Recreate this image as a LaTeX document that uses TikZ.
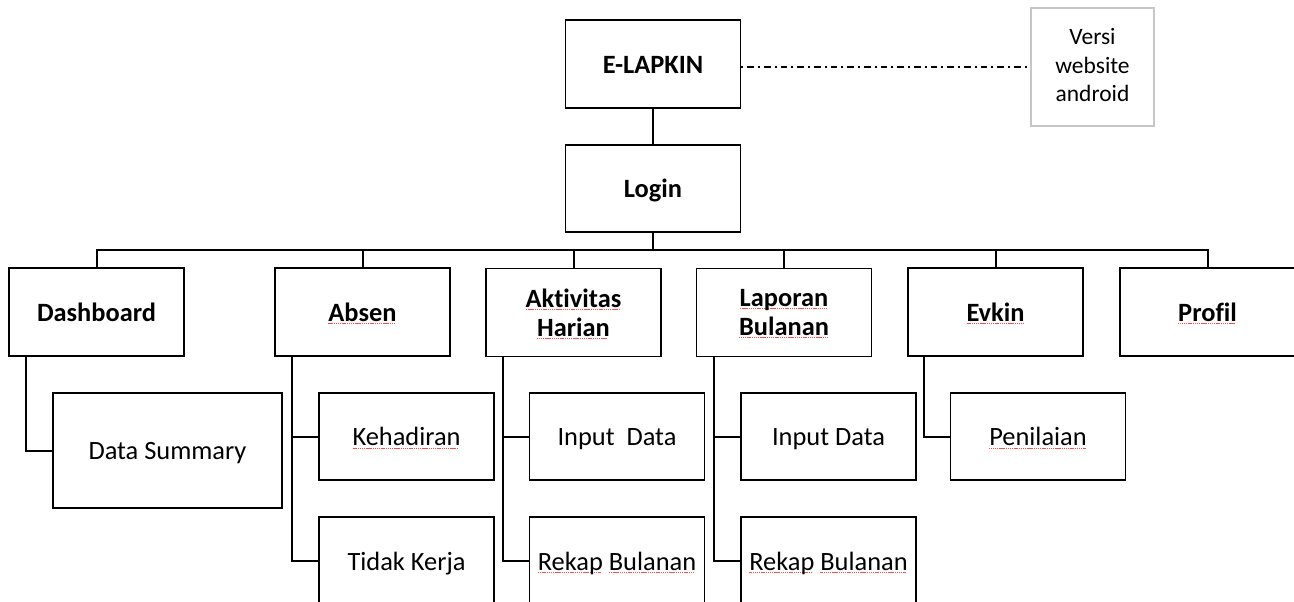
\documentclass[tikz,border=0pt]{standalone}
\usepackage{fontspec}
\setmainfont{Carlito}[Ligatures=NoCommon]
\usetikzlibrary{calc}
\newsavebox\spwbox
\newcommand\spw[1]{\leavevmode\sbox\spwbox{#1}\smash{\rlap{\textcolor{red!70}{\leaders\hbox{\rule[-2pt]{0.9pt}{0.5pt}\kern0.5pt}\hskip\wd\spwbox}}}\usebox\spwbox}
\tikzset{
  box/.style={draw, line width=1.4pt, minimum width=131.25pt, minimum height=65.25pt,
    inner sep=0pt, align=center, font=\fontsize{19.8}{21.75}\selectfont},
  head/.style={box, minimum height=66pt, font=\fontsize{19.8}{21.75}\selectfont\bfseries},
  oneline/.style={text height=13.6pt, text depth=0pt},
  link/.style={line width=1.5pt},
  dashdotline/.style={line width=1.1pt, dash pattern=on 1.5pt off 3pt on 5pt off 3pt},
}
\begin{document}
\begin{tikzpicture}[x=0.75pt, y=-0.75pt]
\useasboundingbox (0,0) rectangle (1294,601);
\clip (0,0) rectangle (1294,601);
% top
\node[head, oneline] (elapkin) at (653,64) {E-LAPKIN};
\node[head, oneline, minimum height=65.25pt] (login) at (653,188.5) {Login};
\node[box, draw=gray!45, line width=1.5pt, minimum width=92.25pt, minimum height=88.5pt,
      font=\fontsize{17.6}{21.6}\selectfont] (versi) at (1092.5,67) {Versi\\website\\android\vphantom{p}};
\draw[dashdotline] (elapkin.east |- versi.west) -- (versi.west);
\draw[link] (elapkin) -- (login);
% first level
\node[head, oneline] (dash) at (96.5,312) {Dashboard};
\node[head, oneline] (absen) at (362.5,312) {\spw{Absen}};
\node[head] (akt) at (573.5,312.5) {\spw{Aktivitas}\\\spw{Harian}};
\node[head] (lap) at (784,312.5) {\spw{Laporan}\\\spw{Bulanan}};
\node[head, oneline] (evkin) at (995.5,312) {\spw{Evkin}};
\node[head, oneline] (profil) at (1207.5,312) {\spw{Profil}};
\coordinate (bus) at (653,250);
\draw[link] (login) -- (bus);
\draw[link] (dash.north) |- (bus) -| (profil.north);
\foreach \n in {absen,akt,lap,evkin} \draw[link] (\n.north) -- (\n.north |- bus);
% second level
\node[box, oneline, minimum width=171.75pt, minimum height=86.25pt] (ds) at (167.5,450.5) {Data Summary};
\node[box, oneline] (keh) at (406.5,436.5) {\spw{Kehadiran}};
\node[box, oneline] (in1) at (617,436.5) {Input\ \ Data};
\node[box, oneline] (in2) at (828.5,436.5) {Input Data};
\node[box, oneline] (pen) at (1038,436.5) {\spw{Penilaian}};
% third level (cut off at bottom)
\node[box, oneline, minimum height=66pt] (tk) at (406.5,561) {Tidak Kerja};
\node[box, oneline, minimum height=66pt] (rk1) at (617,561) {\spw{Rekap} \spw{Bulanan}};
\node[box, oneline, minimum height=66pt] (rk2) at (828.5,561) {\spw{Rekap} \spw{Bulanan}};
% trunks
\coordinate (dT) at ($(dash.south west)+(18,0)$);
\coordinate (aT) at ($(absen.south west)+(18,0)$);
\coordinate (kT) at ($(akt.south west)+(18,0)$);
\coordinate (lT) at ($(lap.south west)+(18,0)$);
\coordinate (eT) at ($(evkin.south west)+(17,0)$);
\draw[link] (dT) |- (ds.west);
\draw[link] (aT) |- (tk.west) (aT |- keh.west) -- (keh.west);
\draw[link] (kT) |- (rk1.west) (kT |- in1.west) -- (in1.west);
\draw[link] (lT) |- (rk2.west) (lT |- in2.west) -- (in2.west);
\draw[link] (eT) |- (pen.west);
\end{tikzpicture}
\end{document}
